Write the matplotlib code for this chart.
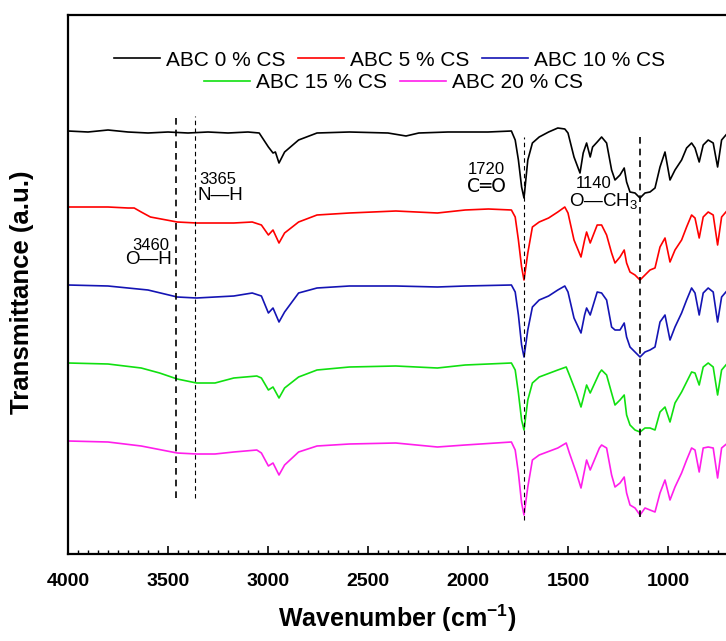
import matplotlib
matplotlib.use("Agg")
import matplotlib.pyplot as plt
from matplotlib.ticker import MultipleLocator

plt.rcParams['font.family'] = ['Liberation Sans', 'DejaVu Sans']
plt.rcParams['mathtext.fontset'] = 'custom'
plt.rcParams['mathtext.rm'] = 'Liberation Sans'
plt.rcParams['mathtext.bf'] = 'Liberation Sans:bold'

# ---------------- data (wavenumber, transmittance a.u., curves offset) ----------------
wn_black = [4000, 3900, 3800, 3700, 3600, 3500, 3400, 3300, 3200, 3100, 3044, 2998, 2975, 2963, 2945,
            2917, 2847, 2755, 2593, 2400, 2310, 2246, 2100, 1900, 1783, 1764, 1748, 1732, 1720, 1701,
            1678, 1644, 1597, 1551, 1516, 1500, 1470, 1440, 1424, 1407, 1389, 1377, 1354, 1332, 1307,
            1282, 1265, 1240, 1219, 1207, 1190, 1165, 1140, 1115, 1090, 1065, 1040, 1015, 990, 965,
            932, 907, 882, 865, 844, 824, 799, 774, 752, 732, 702]
t_black = [423, 422, 424, 422, 421, 422, 421, 422, 421, 422, 421, 407, 401, 402, 391,
           402, 414, 421, 422, 421, 418, 421, 422, 422, 423, 414, 394, 367, 356, 394,
           411, 417, 422, 426, 425, 421, 397, 381, 401, 411, 397, 407, 412, 417, 411,
           384, 374, 379, 386, 372, 362, 361, 356, 361, 362, 366, 387, 402, 374, 384,
           394, 406, 411, 406, 392, 409, 414, 411, 387, 414, 421]

wn_red = [4000, 3900, 3800, 3700, 3669, 3634, 3588, 3454, 3357, 3171, 3079, 3033, 2998, 2975, 2945,
          2917, 2847, 2755, 2593, 2361, 2153, 2014, 1898, 1783, 1764, 1748, 1732, 1720, 1701, 1678,
          1644, 1597, 1551, 1516, 1500, 1470, 1435, 1417, 1407, 1389, 1354, 1332, 1307, 1282, 1265,
          1240, 1219, 1207, 1190, 1165, 1140, 1115, 1090, 1065, 1040, 1015, 990, 965, 932, 907,
          882, 865, 844, 824, 799, 774, 752, 732, 702]
t_red = [347, 347, 347, 346, 346, 342, 337, 332, 331, 331, 332, 329, 319, 324, 311,
         321, 332, 339, 341, 343, 341, 344, 345, 344, 337, 314, 287, 274, 301, 327,
         332, 336, 342, 347, 341, 314, 297, 314, 322, 311, 329, 329, 319, 301, 291,
         297, 304, 291, 282, 279, 274, 279, 284, 286, 307, 316, 292, 304, 314, 327,
         339, 336, 316, 337, 342, 339, 309, 337, 344]

wn_blue = [4000, 3800, 3600, 3454, 3357, 3171, 3079, 3033, 2998, 2975, 2945, 2917, 2847, 2755, 2593,
           2361, 2153, 2014, 1783, 1764, 1748, 1732, 1720, 1701, 1678, 1644, 1597, 1551, 1516, 1500,
           1470, 1435, 1417, 1407, 1389, 1354, 1332, 1307, 1282, 1265, 1240, 1219, 1207, 1190, 1165,
           1140, 1115, 1090, 1065, 1040, 1015, 990, 965, 932, 907, 882, 865, 844, 824, 799,
           774, 752, 732, 702]
t_blue = [269, 268, 264, 257, 256, 258, 261, 258, 241, 246, 232, 242, 261, 266, 268,
          268, 267, 268, 269, 262, 239, 209, 197, 224, 247, 254, 258, 264, 268, 262,
          236, 221, 239, 246, 239, 262, 261, 254, 227, 224, 224, 231, 217, 207, 202,
          197, 202, 204, 207, 232, 239, 214, 227, 241, 254, 266, 261, 239, 261, 266,
          262, 232, 257, 264]

wn_green = [4000, 3800, 3634, 3542, 3454, 3357, 3265, 3171, 3056, 3033, 2998, 2975, 2945, 2917, 2847,
            2755, 2593, 2361, 2153, 2014, 1783, 1764, 1748, 1732, 1720, 1701, 1678, 1644, 1551, 1509,
            1493, 1458, 1435, 1417, 1407, 1389, 1343, 1332, 1307, 1282, 1265, 1240, 1219, 1207, 1190,
            1165, 1140, 1115, 1090, 1065, 1040, 1015, 990, 965, 932, 907, 882, 865, 844, 824,
            799, 774, 752, 732, 702]
t_green = [191, 190, 186, 181, 175, 171, 171, 176, 178, 176, 164, 167, 156, 166, 177,
           184, 187, 188, 186, 189, 191, 184, 161, 134, 124, 154, 171, 177, 184, 187,
           179, 161, 147, 161, 169, 161, 181, 184, 179, 161, 149, 154, 159, 139, 129,
           124, 122, 126, 126, 124, 142, 147, 132, 151, 162, 172, 182, 181, 169, 187,
           191, 187, 159, 184, 191]

wn_magenta = [4000, 3800, 3634, 3454, 3357, 3265, 3171, 3056, 3033, 2998, 2975, 2945, 2917, 2847, 2755,
              2593, 2361, 2153, 2014, 1783, 1764, 1748, 1732, 1720, 1701, 1678, 1644, 1551, 1509, 1493,
              1458, 1435, 1417, 1407, 1389, 1343, 1332, 1307, 1282, 1265, 1240, 1219, 1207, 1190, 1165,
              1140, 1115, 1090, 1065, 1040, 1015, 990, 965, 932, 907, 882, 865, 844, 824, 799,
              774, 752, 732, 702]
t_magenta = [113, 112, 108, 101, 100, 100, 102, 104, 101, 88, 91, 79, 89, 102, 108,
             110, 111, 107, 109, 112, 104, 81, 51, 39, 67, 94, 99, 106, 111, 101,
             81, 66, 84, 94, 84, 106, 109, 106, 79, 67, 71, 77, 61, 49, 46,
             39, 46, 44, 42, 61, 74, 54, 67, 81, 94, 106, 104, 82, 106, 107,
             106, 76, 106, 111]

series_labels = ['ABC 0 % CS', 'ABC 5 % CS', 'ABC 10 % CS', 'ABC 15 % CS', 'ABC 20 % CS']
series_colors = ['#000000', '#FF0000', '#1414B4', '#10E010', '#FF1EEB']

# marker lines: wavenumber, y-range, line width
mark_wn = [3460, 3365, 1720, 1140]
mark_ymin = [56, 56, 34, 37]
mark_ymax = [438, 438, 417, 419]
mark_lw = [1.2, 0.8, 0.8, 1.2]

xticks = [4000, 3500, 3000, 2500, 2000, 1500, 1000]

# ---------------- figure ----------------
fig = plt.figure(figsize=(7.26, 6.41), dpi=100)
ax = fig.add_axes([68/726, 87/641, 658/726, 539/641])

data = [(wn_black, t_black), (wn_red, t_red), (wn_blue, t_blue), (wn_green, t_green), (wn_magenta, t_magenta)]
handles = []
for (w, t), lab, col in zip(data, series_labels, series_colors):
    h, = ax.plot(w, t, color=col, lw=1.2, label=lab)
    handles.append(h)

for w, y0, y1, lw in zip(mark_wn, mark_ymin, mark_ymax, mark_lw):
    ax.plot([w, w], [y0, y1], color='black', lw=lw, linestyle=(0, (4, 3)))

ax.set_xlim(4000, 710)
ax.set_ylim(0, 539)
ax.set_xticks(xticks)
ax.xaxis.set_minor_locator(MultipleLocator(50))
ax.tick_params(axis='x', which='major', direction='in', length=6, width=1.2, labelsize=14, pad=14)
ax.tick_params(axis='x', which='minor', direction='in', length=3, width=1.0)
ax.set_yticks([])
for lbl in ax.get_xticklabels():
    lbl.set_fontweight('bold')
ax.spines['right'].set_visible(False)
for s in ['left', 'top', 'bottom']:
    ax.spines[s].set_linewidth(1.6)

ax.set_xlabel('Wavenumber (cm$^{\\mathbf{-1}}$)', fontsize=18, fontweight='bold', labelpad=9)
ax.set_ylabel('Transmittance (a.u.)', fontsize=18.5, fontweight='bold')
ax.yaxis.set_label_coords((34 - 68) / 658, (554 - 292) / 539)

leg_kw = dict(loc='center', frameon=False, fontsize=15, handlelength=2.2, handletextpad=0.3,
              columnspacing=0.6, borderpad=0, borderaxespad=0)
leg1 = ax.legend(handles=handles[:3], bbox_to_anchor=(0.489, 0.9165), ncol=3, **leg_kw)
ax.add_artist(leg1)
ax.legend(handles=handles[3:], bbox_to_anchor=(0.495, 0.874), ncol=2, **leg_kw)

fs = 12
fb = 13.5
ax.text(3345, 374, '3365', fontsize=fs, ha='left', va='center')
ax.text(3355, 359, 'N—H', fontsize=fb, ha='left', va='center')
ax.text(1910, 385, '1720', fontsize=fs, ha='center', va='center')
ax.text(1910, 367, 'C═O', fontsize=fb, ha='center', va='center', family=['DejaVu Sans'])
ax.text(1370, 371, '1140', fontsize=fs, ha='center', va='center')
ax.text(1495, 352, 'O—CH$_3$', fontsize=fb, ha='left', va='center')
ax.text(3495, 309, '3460', fontsize=fs, ha='right', va='center')
ax.text(3480, 294, 'O—H', fontsize=fb, ha='right', va='center')

fig.savefig('out.png', dpi=100)
